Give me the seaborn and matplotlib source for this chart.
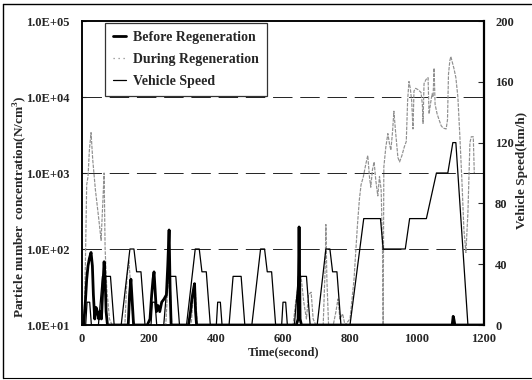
import numpy as np
import pandas as pd
import matplotlib
matplotlib.use("Agg")
import matplotlib.pyplot as plt
from matplotlib.lines import Line2D
from matplotlib.ticker import FuncFormatter, FixedLocator
import seaborn as sns

# ---------------- data ----------------
# Before Regeneration (particle number concentration, N/cm3)
before_t = [0, 5, 10, 14, 18, 22, 27, 31, 34, 38, 42, 46, 50, 54, 58, 62, 66, 69, 72, 76,
            138, 142, 146, 150, 154,
            195, 203, 208, 212, 215, 218, 222, 227, 232, 238, 245, 252, 256, 260, 263, 266,
            318, 324, 328, 332, 336, 339, 342,
            640, 645, 648, 651, 655,
            1105, 1108, 1110, 1113, 1200]
before_c = [10, 10, 20, 40, 60, 75, 90, 60, 25, 12, 17, 15, 12, 15, 12, 30, 68, 40, 15, 10,
            10, 25, 40, 20, 10,
            10, 12, 25, 40, 50, 30, 15, 18, 15, 20, 22, 25, 60, 178, 30, 10,
            10, 15, 22, 28, 35, 15, 10,
            10, 12, 195, 12, 10,
            10, 13, 12, 10, 10]

# During Regeneration
during_t = [0, 6, 10, 14, 18, 22, 27, 32, 40, 50, 57, 63, 66, 69, 74, 82, 90,
            128, 134, 140, 146, 152, 158,
            250, 256, 262, 268, 326, 332, 338, 344,
            630, 638, 646, 654, 662, 670, 676, 684, 690, 698, 720, 726, 728, 731, 736, 750,
            758, 764, 770, 778, 785,
            800, 812, 822, 828, 833, 840, 847, 853, 858, 862, 867, 872, 877, 883, 888, 893,
            897, 899, 901, 907, 913, 918, 922, 927, 931, 936, 943, 948, 955, 962, 968, 972,
            976, 980, 984, 988, 991, 996, 1003, 1012, 1016, 1018, 1021, 1027, 1033, 1036,
            1040, 1045, 1048, 1051, 1054, 1060, 1066, 1072, 1078, 1087, 1091, 1094, 1098,
            1101, 1106, 1110, 1116, 1122, 1128, 1134, 1140, 1146, 1152, 1158, 1162, 1168, 1171]
during_c = [10, 10, 60, 700, 900, 2000, 3400, 1500, 600, 250, 130, 500, 1000, 100, 30, 12, 10,
            10, 40, 70, 30, 12, 10,
            10, 30, 45, 10, 10, 25, 30, 10,
            10, 20, 35, 43, 20, 12, 25, 27, 12, 10, 10, 60, 210, 40, 10, 10,
            15, 22, 12, 14, 10,
            12, 40, 200, 450, 700, 900, 1300, 1700, 900, 650, 1100, 1400, 800, 500, 900, 600,
            100, 10, 1200, 2200, 3300, 2400, 2000, 3500, 6500, 3500, 1600, 1400, 1700, 2200, 2600, 9000,
            16000, 13000, 9000, 3800, 12000, 13000, 12500, 11500, 8000, 4500, 15000, 17000, 18000, 6000,
            8000, 11000, 10000, 24000, 8000, 6000, 5000, 4200, 3900, 3800, 5000, 20000, 30000,
            34000, 28000, 24000, 18000, 10000, 3000, 800, 180, 90, 300, 2500, 3000, 3000, 1000]

# Vehicle speed (km/h)
speed_t = [0, 11, 15, 23, 28, 49, 61, 85, 96, 117, 143, 155, 163, 176, 188,
           206, 210, 218, 223, 244, 256, 280, 291, 312, 338, 350, 358, 371, 383,
           401, 405, 413, 418, 439, 451, 475, 486, 507, 533, 545, 553, 566, 578,
           596, 600, 608, 613, 634, 646, 670, 681, 702, 728, 740, 748, 761, 773,
           800, 841, 891, 899, 965, 978, 1028, 1058, 1092, 1107, 1116, 1152, 1200]
speed_v = [0, 0, 15, 15, 0, 0, 32, 32, 0, 0, 50, 50, 35, 35, 0,
           0, 15, 15, 0, 0, 32, 32, 0, 0, 50, 50, 35, 35, 0,
           0, 15, 15, 0, 0, 32, 32, 0, 0, 50, 50, 35, 35, 0,
           0, 15, 15, 0, 0, 32, 32, 0, 0, 50, 50, 35, 35, 0,
           0, 70, 70, 50, 50, 70, 70, 100, 100, 120, 120, 0, 0]

x_ticks = [0, 200, 400, 600, 800, 1000, 1200]
left_ticks = [1e1, 1e2, 1e3, 1e4, 1e5]
right_ticks = [0, 40, 80, 120, 160, 200]

# ---------------- style ----------------
sns.set_style("ticks")
plt.rcParams['font.family'] = ['Liberation Serif', 'DejaVu Serif']
plt.rcParams['font.weight'] = 'bold'
plt.rcParams['axes.labelweight'] = 'bold'
plt.rcParams['mathtext.fontset'] = 'custom'
plt.rcParams['mathtext.rm'] = 'Liberation Serif:bold'
plt.rcParams['mathtext.bf'] = 'Liberation Serif:bold'

fig = plt.figure(figsize=(5.32, 3.8), dpi=100)
ax = fig.add_axes([82/532, 1 - 325/380, (484-82)/532, (325-21)/380])
ax2 = ax.twinx()

df_b = pd.DataFrame({'t': before_t, 'c': before_c})
df_d = pd.DataFrame({'t': during_t, 'c': during_c})
df_s = pd.DataFrame({'t': speed_t, 'v': speed_v})

ax.set_yscale('log')
ax.set_xlim(0, 1200)
ax.set_ylim(1e1, 1e5)
ax2.set_ylim(0, 200)

for yv in [1e2, 1e3, 1e4]:
    ax.axhline(yv, color='#222222', lw=0.7, ls=(0, (20, 8)), zorder=1)

sns.lineplot(data=df_d, x='t', y='c', ax=ax, color='#909090', linewidth=0.85,
             linestyle=(0, (3, 1)), estimator=None, sort=False, zorder=3)
sns.lineplot(data=df_b, x='t', y='c', ax=ax, color='black', linewidth=2.0,
             estimator=None, sort=False, zorder=4)
sns.lineplot(data=df_s, x='t', y='v', ax=ax2, color='black', linewidth=0.9,
             estimator=None, sort=False, zorder=5)

ax.xaxis.set_major_locator(FixedLocator(x_ticks))
ax.yaxis.set_major_locator(FixedLocator(left_ticks))
ax.yaxis.set_minor_locator(FixedLocator([]))
ax.yaxis.set_major_formatter(FuncFormatter(lambda v, p: "1.0E+%02d" % int(round(np.log10(v)))))
ax2.yaxis.set_major_locator(FixedLocator(right_ticks))

ax.tick_params(axis='both', direction='in', labelsize=9, length=3, width=0.8, pad=9)
ax.tick_params(axis='x', length=0, pad=6)
ax2.tick_params(axis='y', direction='in', labelsize=9, length=4, width=0.8, pad=8)
for lab in ax.get_xticklabels() + ax.get_yticklabels() + ax2.get_yticklabels():
    lab.set_fontweight('bold')

ax.set_xlabel('Time(second)', fontsize=9, fontweight='bold', labelpad=1)
ax.set_ylabel('Particle number  concentration(N/cm$^3$)', fontsize=9.5, fontweight='bold')
ax.yaxis.set_label_coords(-0.133, 0.39)
ax2.set_ylabel('Vehicle Speed(km/h)', fontsize=9.5, fontweight='bold')
ax2.yaxis.set_label_coords(1.079, 0.51)

for a in (ax, ax2):
    for s in a.spines.values():
        s.set_linewidth(1.1)
        s.set_color('black')
ax2.spines['right'].set_linewidth(1.6)

handles = [Line2D([], [], color='black', lw=2.0),
           Line2D([], [], color='#8a8a8a', lw=0.9, ls=(0, (1, 3))),
           Line2D([], [], color='black', lw=0.9)]
labels = ['Before Regeneration', 'During Regeneration', 'Vehicle Speed']
leg = ax2.legend(handles, labels, loc='upper left', bbox_to_anchor=(0.057, 0.993),
                 borderaxespad=0, fontsize=10, frameon=True, fancybox=False, edgecolor='black',
                 handlelength=1.0, handletextpad=0.5, borderpad=0.55, labelspacing=0.66)
leg.get_frame().set_linewidth(0.9)
for t in leg.get_texts():
    t.set_fontweight('bold')

# scan frame
fig.add_artist(Line2D([0.006, 0.006], [0.006, 0.99], transform=fig.transFigure, color='black', lw=1.0))
fig.add_artist(Line2D([0.006, 0.999], [0.99, 0.99], transform=fig.transFigure, color='black', lw=1.0))
fig.add_artist(Line2D([0.006, 0.999], [0.006, 0.006], transform=fig.transFigure, color='black', lw=0.8))

fig.savefig('out.png', dpi=100)
